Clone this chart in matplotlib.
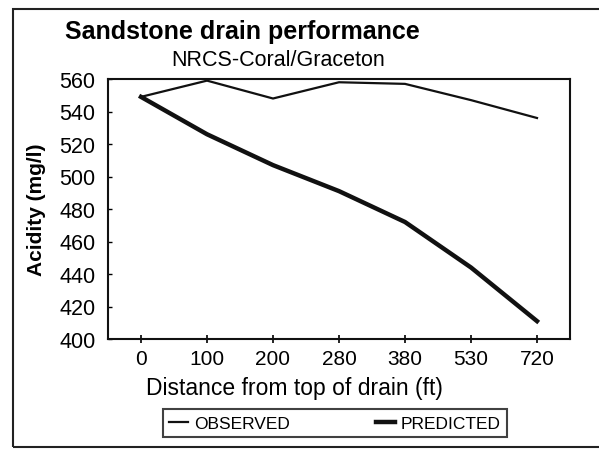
import matplotlib
matplotlib.use("Agg")
import matplotlib.pyplot as plt
from matplotlib.lines import Line2D
from matplotlib.patches import Rectangle

categories = ["0", "100", "200", "280", "380", "530", "720"]
observed = [549, 559, 548, 558, 557, 547, 536]
predicted = [549, 526, 507, 491, 472, 444, 411]
yticks = [400, 420, 440, 460, 480, 500, 520, 540, 560]

plt.rcParams['font.family'] = ['Liberation Sans', 'DejaVu Sans']

fig = plt.figure(figsize=(5.99, 4.56), dpi=100)
ax = fig.add_axes([108/599, 1-340/456, (570-108)/599, (340-80)/456])

x = list(range(len(categories)))
ax.plot(x, observed, color='#111111', lw=1.6, solid_joinstyle='miter')
ax.plot(x, predicted, color='#111111', lw=3.2, solid_joinstyle='round')

ax.set_xlim(-0.5, 6.5)
ax.set_ylim(400, 560)
ax.set_xticks(x)
ax.set_xticklabels(categories, fontsize=15)
ax.set_yticks(yticks)
ax.set_yticklabels([str(v) for v in yticks], fontsize=15.5)
ax.tick_params(axis='x', direction='inout', length=6, width=1.2, pad=4)
ax.tick_params(axis='y', direction='in', length=3, width=1.0, pad=9)
for s in ax.spines.values():
    s.set_linewidth(1.5)
    s.set_color('#111111')

fig.text(294/599, 1-389/456, "Distance from top of drain (ft)", fontsize=16.5,
         ha='center', va='center')
fig.text(36/599, 1-210/456, "Acidity (mg/l)", rotation=90, fontsize=15,
         fontweight='bold', ha='center', va='center')

fig.text(65/599, 1-32/456, "Sandstone drain performance", fontsize=18,
         fontweight='bold', ha='left', va='center')
fig.text(278/599, 1-61/456, "NRCS-Coral/Graceton", fontsize=15.5,
         ha='center', va='center')

handles = [Line2D([], [], color='#111111', lw=1.6),
           Line2D([], [], color='#111111', lw=3.2)]
leg = fig.legend(handles, ["OBSERVED", "PREDICTED"], loc='center',
                 bbox_to_anchor=(335/599, 1-424/456), ncol=2, frameon=True,
                 fancybox=False, edgecolor='#111111', fontsize=12.5,
                 handlelength=1.1, handletextpad=0.3, columnspacing=5.0,
                 borderpad=0.35, borderaxespad=0)
leg.get_frame().set_linewidth(1.5)

# outer border of the scanned chart
fig.patches.append(Rectangle((13/599, 1-448/456), 1.2, (448-10)/456,
                             transform=fig.transFigure, fill=False,
                             edgecolor='#222222', lw=1.5))

fig.savefig("out.png", dpi=100)
